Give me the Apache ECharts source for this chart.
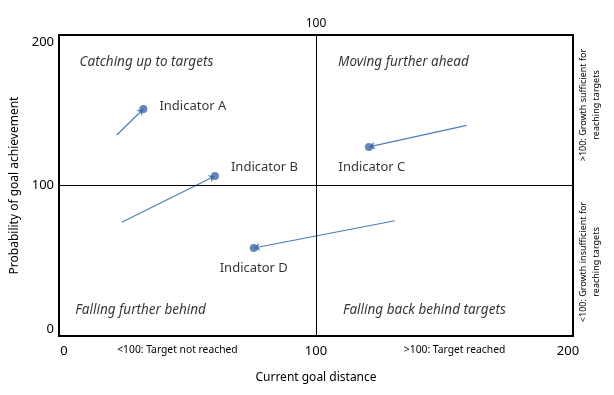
<!DOCTYPE html>
<html><head><meta charset="utf-8">
<script src="https://cdn.jsdelivr.net/npm/echarts@6/dist/echarts.min.js"></script>
<style>html,body{margin:0;padding:0;background:#fff}#c{width:614px;height:395px}</style>
</head><body><div id="c"></div>
<script>
// Data
const indicatorNames = ['Indicator A', 'Indicator B', 'Indicator C', 'Indicator D'];
const startX = [20.9, 22.9, 159.8, 131.3];
const startY = [135.2, 74.3, 142.0, 75.4];
const endX = [31.5, 59.9, 121.0, 75.3];
const endY = [153.4, 106.6, 126.9, 56.4];
const xTicks = [0, 100, 200];
const yTicks = [0, 100, 200];
const xMidNotes = [45, 155];
const xMidNoteText = ['<100: Target not reached', '>100: Target reached'];
const quadrantNames = ['Catching up to targets', 'Moving further ahead', 'Falling further behind', 'Falling back behind targets'];
const quadrantX = [32.7, 134.7, 30.4, 143];
const quadrantY = [186.2, 186.2, 13.1, 13.1];
const rightNotes = ['>100: Growth sufficient for\nreaching targets', '<100: Growth insufficient for\nreaching targets'];
const threshold = 100;

const FONT = 'Noto Sans';
const chart = echarts.init(document.getElementById('c'));

const labelPos = ['right', 'right', 'bottom', 'bottom'];
const labelOffset = [[0, -3], [0, -9], [3, 0], [0, 0]];
const dots = endX.map((x, i) => ({
  value: [x, endY[i]],
  label: { show: true, formatter: indicatorNames[i], position: labelPos[i], offset: labelOffset[i],
           distance: i < 2 ? 12 : 10, color: '#000', fontFamily: FONT, fontSize: 13 }
}));
const arrows = startX.map((x, i) => ({ coords: [[x, startY[i]], [endX[i], endY[i]]] }));
const quads = quadrantX.map((x, i) => ({
  value: [x, quadrantY[i]],
  label: { show: true, formatter: quadrantNames[i], position: 'inside', fontStyle: 'italic',
           color: '#000', fontFamily: FONT, fontSize: 13.5 }
}));

const xLabelValues = xTicks.concat(xMidNotes).sort((a, b) => a - b);

chart.setOption({
  animation: false,
  grid: { left: 59, right: 41, top: 35, bottom: 59, show: true, borderColor: '#000', borderWidth: 2 },
  xAxis: [{
    type: 'value', min: -2, max: 202,
    axisLine: { show: false }, axisTick: { show: false }, splitLine: { show: false },
    axisLabel: {
      customValues: xLabelValues, margin: 9, color: '#000', fontFamily: FONT, fontSize: 13,
      formatter: v => {
        const k = xMidNotes.indexOf(v);
        return k >= 0 ? '{s|' + xMidNoteText[k] + '}' : String(v);
      },
      rich: { s: { fontSize: 10.3, fontFamily: FONT, color: '#000' } }
    },
    name: 'Current goal distance', nameLocation: 'middle', nameGap: 36,
    nameTextStyle: { color: '#000', fontFamily: FONT, fontSize: 12 }
  }, {
    type: 'value', min: -2, max: 202, position: 'top',
    axisLine: { show: false }, axisTick: { show: false }, splitLine: { show: false },
    axisLabel: { customValues: [threshold], margin: 5, color: '#000', fontFamily: FONT, fontSize: 12 }
  }],
  yAxis: [{
    type: 'value', min: -5, max: 205,
    axisLine: { show: false }, axisTick: { show: false }, splitLine: { show: false },
    axisLabel: { customValues: yTicks, margin: 5, color: '#000', fontFamily: FONT, fontSize: 13 },
    name: 'Probability of goal achievement', nameLocation: 'middle', nameGap: 38,
    nameTextStyle: { color: '#000', fontFamily: FONT, fontSize: 12 }
  }],
  series: [
    {
      type: 'lines', coordinateSystem: 'cartesian2d', xAxisIndex: 0, yAxisIndex: 0,
      symbol: ['none', 'arrow'], symbolSize: 6,
      lineStyle: { color: '#4a7ebb', width: 1.2, opacity: 1 },
      data: arrows,
      markLine: {
        silent: true, symbol: 'none', label: { show: false },
        lineStyle: { color: '#000', width: 1, type: 'solid' },
        data: [{ xAxis: threshold }, { yAxis: threshold }]
      }
    },
    {
      type: 'scatter', xAxisIndex: 0, yAxisIndex: 0, symbolSize: 8,
      itemStyle: { color: '#3d69a6' }, data: dots, z: 5
    },
    {
      type: 'scatter', xAxisIndex: 0, yAxisIndex: 0, symbolSize: 1,
      itemStyle: { color: 'rgba(0,0,0,0)' }, data: quads, silent: true
    }
  ],
  graphic: [
    { type: 'text', x: 590, y: 105, rotation: Math.PI / 2,
      style: { text: rightNotes[0], align: 'center', verticalAlign: 'middle', fill: '#000',
               fontFamily: FONT, fontSize: 9, lineHeight: 13 } },
    { type: 'text', x: 590, y: 262, rotation: Math.PI / 2,
      style: { text: rightNotes[1], align: 'center', verticalAlign: 'middle', fill: '#000',
               fontFamily: FONT, fontSize: 9, lineHeight: 13 } }
  ]
});
</script></body></html>
